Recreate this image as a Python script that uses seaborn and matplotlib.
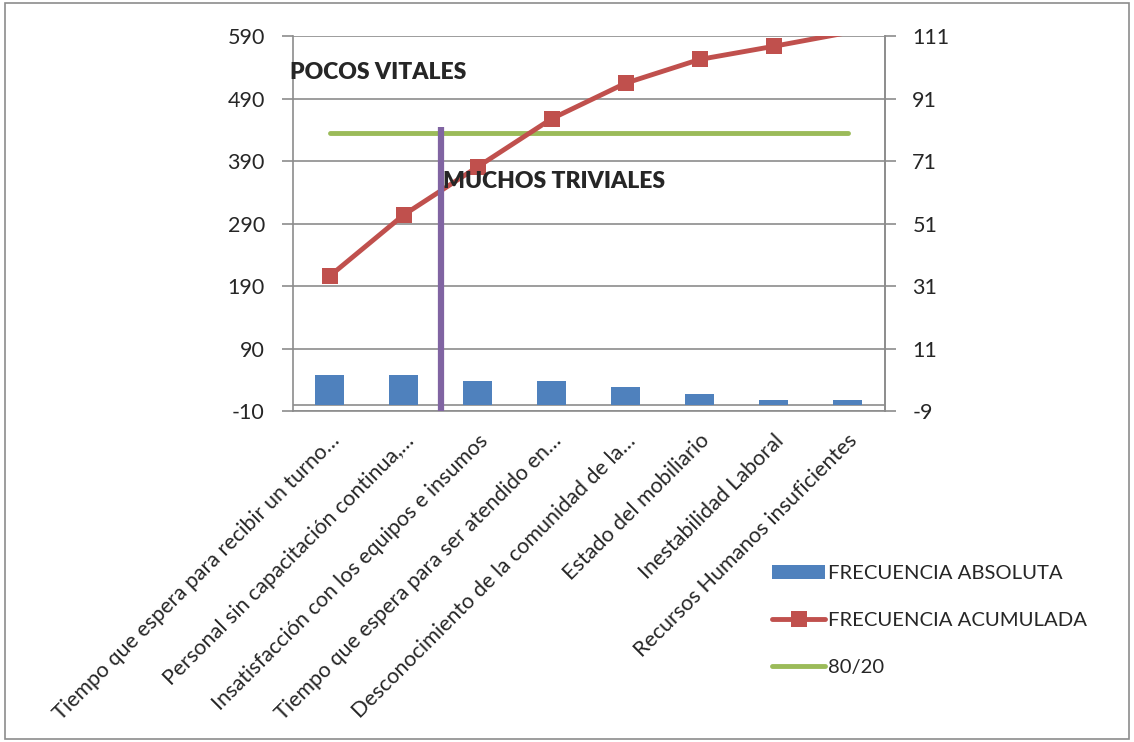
import numpy as np
import pandas as pd
import matplotlib
matplotlib.use("Agg")
import matplotlib.pyplot as plt
from matplotlib.patches import Rectangle
import seaborn as sns

sns.set_style("white")
plt.rcParams['font.family'] = ['Lato', 'DejaVu Sans']
plt.rcParams['axes.unicode_minus'] = False

causas = ["Tiempo que espera para recibir un turno…",
          "Personal sin capacitación continua,…",
          "Insatisfacción con los equipos e insumos",
          "Tiempo que espera para ser atendido en…",
          "Desconocimiento de la comunidad de la…",
          "Estado del mobiliario",
          "Inestabilidad Laboral",
          "Recursos Humanos insuficientes"]
frec_absoluta = [48, 48, 38, 38, 29, 18, 8, 8]
frec_acumulada = [206, 304, 381, 458, 515, 553, 574, 596]
linea_80_20 = [436, 436, 436, 436, 436, 436, 436, 436]
corte_x = 1.5
corte_top = 445
left_ticks = [-10, 90, 190, 290, 390, 490, 590]
right_ticks = [-9, 11, 31, 51, 71, 91, 111]

AZUL = "#4F81BD"
ROJO = "#C0504D"
VERDE = "#9BBB59"
MORADO = "#8064A2"
GRIS = "#8C8C8C"

df = pd.DataFrame({"causa": causas, "abs": frec_absoluta})

fig = plt.figure(figsize=(11.34, 7.42), dpi=100)
ax = fig.add_axes([0.258, 0.446, 0.522, 0.505])

sns.barplot(data=df, x="causa", y="abs", color=AZUL, width=0.4,
            saturation=1, ax=ax, label="FRECUENCIA ABSOLUTA", zorder=3,
            linewidth=0)
xs = np.arange(len(causas))
sns.lineplot(x=xs, y=frec_acumulada, color=ROJO, lw=3.5, marker="s",
             markersize=12, markeredgewidth=0, ax=ax,
             markevery=list(range(len(causas) - 1)),
             label="FRECUENCIA ACUMULADA", zorder=5)
sns.lineplot(x=xs, y=linea_80_20, color=VERDE, lw=3.5, ax=ax,
             label="80/20", zorder=4, solid_capstyle="round")
ax.vlines(corte_x, -10, corte_top, color=MORADO, lw=4.5, zorder=6)

ax.set_xlim(-0.5, len(causas) - 0.5)
ax.set_ylim(-10, 590)
ax.set_yticks(left_ticks)
ax.set_xlabel("")
ax.set_ylabel("")
ax.grid(True, axis="y", color=GRIS, lw=1.2, zorder=0)
ax.axhline(0, color=GRIS, lw=1.2, zorder=2)

ax.spines["top"].set_visible(False)
for s in ["left", "right", "bottom"]:
    ax.spines[s].set_color(GRIS)
    ax.spines[s].set_linewidth(1.2)

ax.set_xticks(xs)
ax.set_xticklabels(causas, rotation=45, ha="right", rotation_mode="anchor",
                   fontsize=15.5)
ax.set_xticks(np.arange(-0.5, len(causas), 1), minor=True)
ax.tick_params(axis="x", which="major", length=0, pad=14)
ax.tick_params(axis="x", which="minor", length=6, color=GRIS, width=1.2)
ax.tick_params(axis="y", length=8, color=GRIS, width=1.2, labelsize=15.5, pad=12)

ax2 = ax.twinx()
ax2.set_ylim(-9, 111)
ax2.set_yticks(right_ticks)
ax2.tick_params(axis="y", length=8, color=GRIS, width=1.2, labelsize=15.5, pad=12)
for s in ["top", "left", "bottom"]:
    ax2.spines[s].set_visible(False)
ax2.spines["right"].set_color(GRIS)
ax2.spines["right"].set_linewidth(1.2)

ax.text(-0.53, 532, "POCOS VITALES", fontsize=16.5, fontweight="heavy",
        va="center", ha="left", zorder=7)
ax.text(1.53, 358, "MUCHOS TRIVIALES", fontsize=16.5, fontweight="heavy",
        va="center", ha="left", zorder=7)

handles, labels = ax.get_legend_handles_labels()
if ax.get_legend():
    ax.get_legend().remove()
order = [labels.index(l) for l in ["FRECUENCIA ABSOLUTA", "FRECUENCIA ACUMULADA", "80/20"]]
fig.legend([handles[i] for i in order], [labels[i] for i in order],
           loc="upper left", bbox_to_anchor=(754 / 1134, 1 - 547 / 742),
           frameon=False, fontsize=14.6, labelspacing=1.45, handlelength=2.6,
           handletextpad=0.15)

fig.patches.append(Rectangle((0.004, 0.004), 0.992, 0.992,
                             transform=fig.transFigure, fill=False,
                             edgecolor=GRIS, lw=1.2))

fig.savefig("out.png", dpi=100)
